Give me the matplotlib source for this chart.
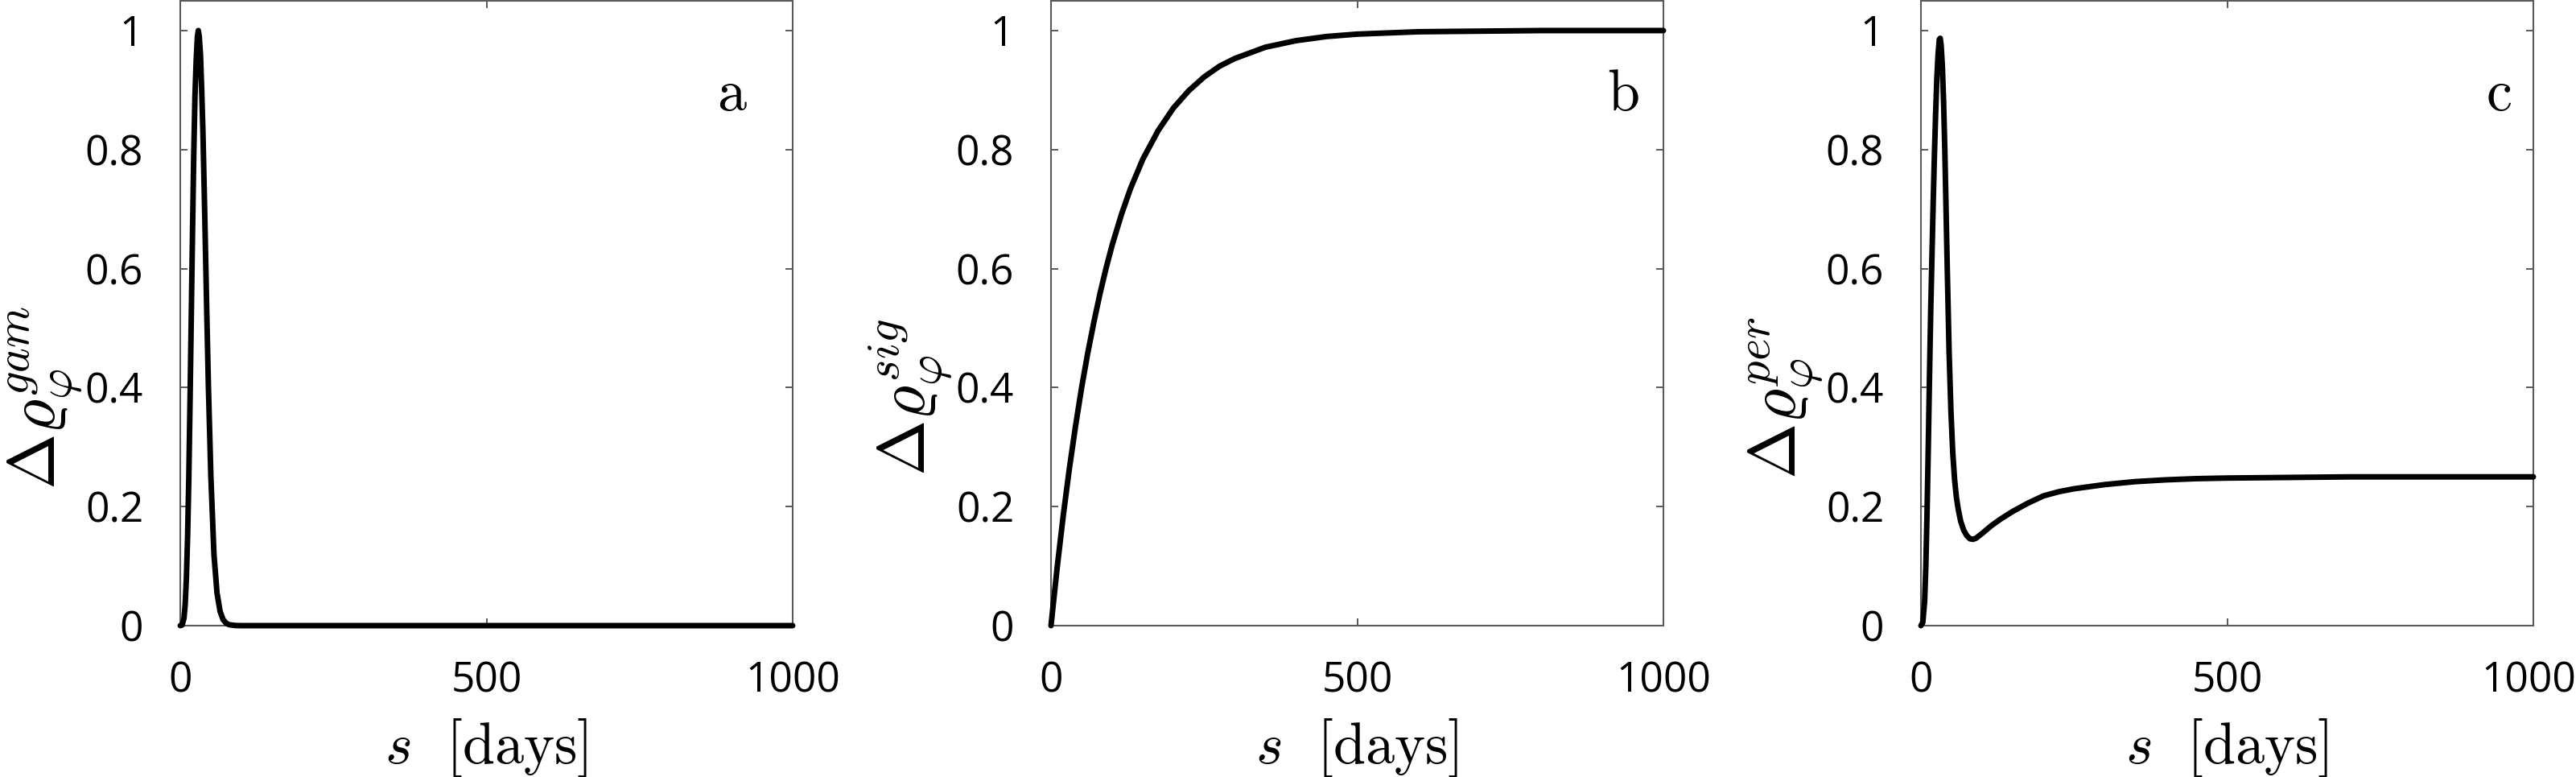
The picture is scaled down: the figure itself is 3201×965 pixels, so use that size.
import matplotlib
matplotlib.use("Agg")
import matplotlib.pyplot as plt
import matplotlib.transforms as mtransforms

# ---- data ----
s_a = [0, 3, 6, 8, 10, 12, 14, 16, 18, 20, 22, 24, 26, 28, 29.5, 31, 33, 35, 37,
       40, 43, 46, 50, 55, 60, 65, 70, 75, 80, 90, 100, 1000]
y_a = [0, 0.001, 0.012, 0.035, 0.08, 0.15, 0.25, 0.38, 0.52, 0.66, 0.79, 0.89, 0.95,
       0.99, 1.0, 0.99, 0.96, 0.90, 0.83, 0.69, 0.54, 0.40, 0.25, 0.12, 0.055, 0.024,
       0.010, 0.004, 0.0015, 0.0002, 0, 0]

s_b = [0, 10, 20, 30, 40, 50, 60, 70, 80, 90, 100, 115, 130, 150, 175, 200, 225, 250,
       275, 300, 350, 400, 450, 500, 600, 700, 800, 1000]
y_b = [0, 0.097, 0.185, 0.264, 0.335, 0.400, 0.458, 0.510, 0.558, 0.601, 0.640, 0.691,
       0.735, 0.784, 0.832, 0.870, 0.899, 0.922, 0.940, 0.953, 0.972, 0.983, 0.990,
       0.994, 0.998, 0.999, 1.0, 1.0]

s_c = [0, 3, 6, 8, 10, 12, 14, 16, 18, 20, 22, 24, 26, 28, 30, 31.5, 33, 35, 37, 39,
       41, 43, 46, 49, 52, 55, 58, 61, 65, 70, 75, 80, 85, 90, 100, 115, 130, 150, 175,
       200, 225, 250, 300, 350, 400, 450, 500, 600, 700, 800, 1000]
y_c = [0, 0.005, 0.04, 0.10, 0.19, 0.30, 0.42, 0.53, 0.62, 0.71, 0.79, 0.86, 0.92, 0.96,
       0.985, 0.987, 0.975, 0.94, 0.88, 0.80, 0.70, 0.60, 0.46, 0.36, 0.29, 0.245, 0.215,
       0.195, 0.175, 0.16, 0.151, 0.146, 0.145, 0.147, 0.155, 0.168, 0.179, 0.192, 0.206,
       0.218, 0.225, 0.230, 0.237, 0.242, 0.245, 0.247, 0.248, 0.249, 0.25, 0.25, 0.25]

x_ticks = [0, 500, 1000]
x_ticklabels = ["0", "500", "1000"]
y_ticks = [0, 0.2, 0.4, 0.6, 0.8, 1.0]
y_ticklabels = ["0", "0.2", "0.4", "0.6", "0.8", "1"]

ylabels = [r"$\Delta\varrho_{\varphi}^{gam}$", r"$\Delta\varrho_{\varphi}^{sig}$",
           r"$\Delta\varrho_{\varphi}^{per}$"]
panel_letters = ["a", "b", "c"]
xlabel = r"$s\ \ [\mathrm{days}]$"

# ---- styling ----
plt.rcParams["mathtext.fontset"] = "cm"
plt.rcParams["font.family"] = ["Open Sans", "DejaVu Sans"]

W, H = 3201, 965
fig = plt.figure(figsize=(W / 100, H / 100), dpi=100)

lefts = [224, 1306, 2387]
letter_x = [0.901, 0.934, 0.943]
ax_w = 761
ax_bottom = 965 - 777
ax_h = 776
spine_col = "#5a5a5a"

series = [(s_a, y_a), (s_b, y_b), (s_c, y_c)]

for i, (xs, ys) in enumerate(series):
    ax = fig.add_axes([lefts[i] / W, ax_bottom / H, ax_w / W, ax_h / H])
    ax.plot(xs, ys, color="black", lw=5.0, solid_capstyle="round", clip_on=False,
            zorder=5)
    ax.set_xlim(0, 1000)
    ax.set_ylim(0, 1.05)
    ax.set_xticks(x_ticks)
    ax.set_xticklabels(x_ticklabels)
    ax.set_yticks(y_ticks)
    ax.set_yticklabels(y_ticklabels)
    ax.tick_params(direction="in", length=6.5, width=1.4, color=spine_col,
                   labelsize=37, top=True, right=True, labelcolor="black")
    ax.tick_params(axis="y", pad=33)
    ax.tick_params(axis="x", pad=31)
    for sp in ax.spines.values():
        sp.set_color(spine_col)
        sp.set_linewidth(1.5)
    ax.set_ylabel(ylabels[i], fontsize=60)
    ax.yaxis.set_label_coords(-0.158, 0.365)
    ax.set_xlabel(xlabel, fontsize=52)
    ax.xaxis.set_label_coords(0.5, -0.145)
    ax.text(letter_x[i], 0.849, r"$\mathrm{%s}$" % panel_letters[i],
            transform=ax.transAxes, fontsize=52, ha="center", va="center")
    if i == 2:
        # keep the last tick label of the right panel inside the canvas
        lab = ax.get_xticklabels()[-1]
        lab.set_transform(lab.get_transform() +
                          mtransforms.ScaledTranslation(-6 / 100, 0, fig.dpi_scale_trans))

fig.savefig("out.png", dpi=100, facecolor="white")
